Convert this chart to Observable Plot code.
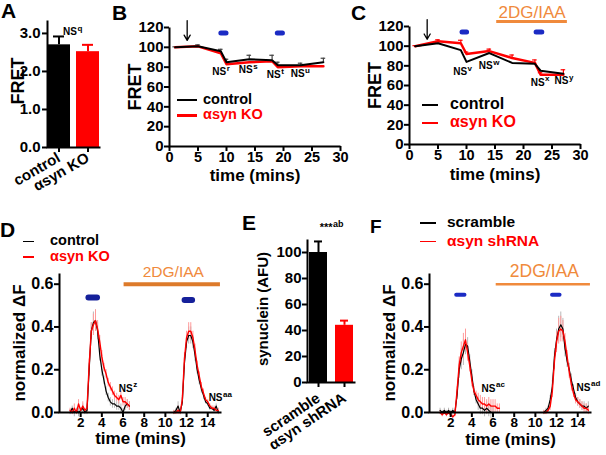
<!DOCTYPE html>
<html><head><meta charset="utf-8">
<script src="https://cdn.jsdelivr.net/npm/d3@7"></script>
<script src="https://cdn.jsdelivr.net/npm/@observablehq/plot@0.6"></script>
<style>
body{margin:0;background:#fff;}
#fig{position:relative;width:606px;height:455px;overflow:hidden;font-family:"Liberation Sans",Arial,Helvetica,sans-serif;font-weight:bold;}
.t{position:absolute;white-space:nowrap;line-height:1;}
</style></head>
<body><div id="fig"></div>
<script>
// ---------- DATA ----------
const catA = ["control", "αsyn KO"];
const fretA = [2.70, 2.52];
const fretSemA = [0.22, 0.18];

const timeB = [1, 5, 9, 10, 14, 18, 19, 23, 27];
const ctrlB = [100, 101, 96, 85, 88, 87, 82, 82, 85];
const ctrlErrB = [0.5, 1.5, 2, 3, 4, 5, 3, 2, 4];
const koB = [100, 101, 94, 83, 85, 86, 80, 81, 81];
const stimB = [[9.1, 10.0], [19.0, 19.9]];
const nsB = [[9.95, 75, "r"], [14.6, 77, "s"], [19.5, 72, "t"], [23.7, 73, "u"]];

const timeC = [1, 5, 9, 10, 14, 18, 22, 23, 27];
const ctrlC = [100, 103, 96, 84, 93, 83, 82, 75, 72];
const koC = [100, 105, 103, 92, 95, 88, 83, 71, 71];
const koErrC = [0.5, 1.5, 3, 2, 2, 3, 3, 2, 5];
const stimC = [[9.3, 10.1], [22.3, 23.3]];
const treatC = [15.3, 27.7];
const nsC = [[10.1, 73.5, "v"], [14.6, 79.7, "w"], [23.7, 62.7, "x"], [27.9, 64.4, "y"]];

const tSeg1 = [1.0,1.2,1.4,1.6,1.8,2.0,2.2,2.4,2.6,2.8,3.0,3.2,3.4,3.6,3.8,4.0,4.2,4.4,4.6,4.8,5.0,5.2,5.4,5.6,5.8,6.0,6.2,6.4,6.6];
const tSeg2 = [10.8,11.0,11.2,11.4,11.6,11.8,12.0,12.2,12.4,12.6,12.8,13.0,13.2,13.4,13.6,13.8,14.0,14.2,14.4,14.6,14.8,15.0];

const ctrlD1 = [0.00,0.02,0.00,0.01,0.00,0.01,0.02,0.00,0.01,0.20,0.38,0.42,0.43,0.38,0.27,0.20,0.15,0.10,0.07,0.05,0.04,0.04,0.03,0.03,0.02,0.00,0.03,0.04,0.03];
const koD1   = [0.01,0.00,0.02,0.00,0.04,0.01,0.03,0.01,0.02,0.22,0.38,0.41,0.43,0.39,0.33,0.26,0.21,0.18,0.14,0.12,0.10,0.08,0.07,0.06,0.08,0.05,0.05,0.04,0.03];
const semD1  = [0.01,0.01,0.02,0.01,0.02,0.01,0.02,0.01,0.02,0.03,0.04,0.05,0.05,0.04,0.03,0.03,0.02,0.02,0.02,0.02,0.02,0.02,0.02,0.02,0.02,0.02,0.02,0.02,0.02];
const ctrlD2 = [0.00,0.01,0.03,0.00,0.05,0.23,0.33,0.36,0.36,0.33,0.27,0.20,0.15,0.11,0.08,0.05,0.04,0.02,0.02,0.01,0.03,0.00];
const koD2   = [0.00,0.00,0.01,0.00,0.06,0.25,0.35,0.38,0.38,0.35,0.29,0.22,0.17,0.12,0.09,0.06,0.05,0.03,0.02,0.02,0.01,0.01];
const semD2  = [0.01,0.01,0.02,0.01,0.02,0.03,0.03,0.04,0.04,0.03,0.03,0.02,0.02,0.02,0.02,0.01,0.01,0.01,0.01,0.01,0.01,0.01];
const stimD = [[2.78, 3.59, 0.538], [11.86, 12.57, 0.526]];
const treatD = [6.1, 15.2];
const nsD = [[6.92, 0.111, "z"], [15.4, 0.067, "aa"]];

const ctrlF1 = [0.01,0.00,0.01,0.00,0.01,0.00,0.01,0.00,0.08,0.20,0.25,0.28,0.32,0.31,0.24,0.17,0.10,0.06,0.04,0.02,0.02,0.01,0.02,0.01,0.00,0.00,null,null,null];
const koF1   = [0.00,-0.01,0.00,-0.01,0.00,-0.01,-0.02,-0.01,0.10,0.22,0.28,0.31,0.34,0.28,0.22,0.15,0.10,0.08,0.06,0.05,0.04,0.04,0.03,0.04,0.03,0.03,0.03,0.02,0.02];
const semF1  = [0.01,0.01,0.01,0.01,0.01,0.01,0.01,0.01,0.02,0.04,0.05,0.06,0.05,0.04,0.03,0.03,0.02,0.02,0.03,0.03,0.03,0.03,0.03,0.03,0.03,0.03,0.03,0.02,0.02];
const ctrlF2 = [0.00,0.01,0.02,0.06,0.12,0.26,0.34,0.39,0.41,0.39,0.30,0.24,0.20,0.15,0.11,0.07,0.05,0.04,0.03,0.03,0.02,0.03];
const koF2   = [0.00,0.00,0.01,0.03,0.10,0.24,0.33,0.38,0.39,0.38,0.33,0.26,0.19,0.13,0.09,0.06,0.05,0.04,0.03,0.02,0.02,0.01];
const semF2  = [0.01,0.01,0.01,0.02,0.03,0.04,0.05,0.06,0.06,0.05,0.04,0.03,0.03,0.03,0.02,0.02,0.02,0.02,0.02,0.02,0.02,0.02];
const stimF = [[2.57, 3.35, 0.551], [11.62, 12.33, 0.551]];
const treatF = [6.3, 15.2];
const nsF = [[6.23, 0.111, "ac"], [15.2, 0.115, "ad"]];

const catE = ["scramble", "αsyn shRNA"];
const synE = [100, 44];
const synSemE = [8.5, 3.6];

// ---------- STYLE ----------
const FONT = '"Liberation Sans", Arial, Helvetica, sans-serif';
const RED = "#ff0000", BLUE = "#1b2bc4", NAVY = "#15209a", ORANGE = "#f08a3c", ORANGE_D = "#dd7a2a";
const fig = document.getElementById("fig");
function put(el, left, top) { el.style.position = "absolute"; el.style.left = left + "px"; el.style.top = top + "px"; fig.appendChild(el); }
function st(fs) { return {fontFamily: FONT, fontWeight: "bold", fontSize: fs + "px", background: "transparent", overflow: "visible", color: "black"}; }
function axesFrame(w, h, ml, mr, mt, mb) {
  const fw = w - ml - mr, fh = h - mt - mb;
  return Plot.frame({stroke: "black", strokeWidth: 2, strokeDasharray: `0 ${fw + fh} ${fw + fh} 0`});
}
function yLabel(txt, dx, fs, dy = 0) { return Plot.text([txt], {frameAnchor: "left", text: d => d, rotate: -90, textAnchor: "middle", lineAnchor: "middle", dx, dy, fontSize: fs, fontWeight: "bold"}); }
function xLabel(txt, dy, fs) { return Plot.text([txt], {frameAnchor: "bottom", text: d => d, textAnchor: "middle", lineAnchor: "middle", dy, fontSize: fs, fontWeight: "bold"}); }
function nsMarks(ns, fs = 10) {
  const rows = ns.map(([x, y, s]) => ({x, y, s}));
  return [
    Plot.text(rows, {x: "x", y: "y", text: () => "NS", textAnchor: "end", fontSize: fs, fontWeight: "bold"}),
    Plot.text(rows, {x: "x", y: "y", text: "s", textAnchor: "start", dx: 0.5, dy: -4, fontSize: fs - 2, fontWeight: "bold"})
  ];
}
function letter(ch, left, top, fs = 21) { const d = document.createElement("div"); d.className = "t"; d.textContent = ch; d.style.fontSize = fs + "px"; put(d, left, top); }
function legend(items, lineX1, lineX2, textX, fs, lw) {
  for (const [label, color, y] of items) {
    const l = document.createElement("div");
    l.style.width = (lineX2 - lineX1) + "px"; l.style.height = lw + "px"; l.style.background = color;
    put(l, lineX1, y - lw / 2);
    const t = document.createElement("div"); t.className = "t"; t.textContent = label; t.style.fontSize = fs + "px"; t.style.color = color === "#000" ? "#000" : RED;
    put(t, textX, y - 0.56 * fs);
  }
}

// ---------- PANEL A ----------
{
  const W = 110, H = 200, ml = 47, mr = 10, mt = 20, mb = 53;
  const rows = catA.map((c, i) => ({c, v: fretA[i], e: fretSemA[i], col: i ? RED : "black"}));
  put(Plot.plot({
    width: W, height: H, marginLeft: ml, marginRight: mr, marginTop: mt, marginBottom: mb, style: st(15),
    x: {domain: catA, paddingInner: 0.2, paddingOuter: 0},
    y: {domain: [0, 3.34]},
    marks: [
      Plot.ruleX(rows, {x: "c", y1: "v", y2: d => d.v + d.e, stroke: "col", strokeWidth: 2}),
      Plot.tickY(rows, {x: "c", y: d => d.v + d.e, stroke: "col", strokeWidth: 2, insetLeft: 6, insetRight: 6}),
      Plot.barY(rows, {x: "c", y: "v", fill: "col"}),
      Plot.axisY({ticks: [0, 1, 2, 3], tickSize: 5, strokeWidth: 2, tickPadding: 2, fontSize: 15, label: null}),
      Plot.axisX({tickSize: 5, strokeWidth: 2, tickPadding: 4, tickRotate: -30, fontSize: 15, label: null}),
      axesFrame(W, H, ml, mr, mt, mb),
      yLabel("FRET", -29, 18, -3),
      Plot.text([catA[1]], {x: d => d, y: () => 3.03, text: () => "NS", textAnchor: "end", dx: -11, fontSize: 10, fontWeight: "bold"}),
      Plot.text([catA[1]], {x: d => d, y: () => 3.03, text: () => "q", textAnchor: "start", dx: -10.5, dy: -4, fontSize: 8, fontWeight: "bold"})
    ]
  }), 0, 0);
}

// ---------- PANEL B / C ----------
function fretPanel({left, time, ctrl, ko, ctrlErr, koErr, stim, ns, treat}) {
  const isB = left === 110;
  const W = isB ? 240 : 256, H = 200, ml = 59, mr = isB ? 10 : 26;
  const mt = isB ? 27 : 26, mb = isB ? 54 : 56;
  const rows = time.map((t, i) => ({t, c: ctrl[i], k: ko[i], ce: ctrlErr ? ctrlErr[i] : 0, ke: koErr ? koErr[i] : 0}));
  const marks = [
    Plot.axisX({ticks: [0, 5, 10, 15, 20, 25, 30], tickSize: 5, strokeWidth: 2, tickPadding: 0, fontSize: 14.5, label: null}),
    Plot.axisY({ticks: [0, 20, 40, 60, 80, 100, 120], tickSize: 5, strokeWidth: 2, tickPadding: 1, fontSize: 15, label: null}),
    axesFrame(W, H, ml, mr, mt, mb),
    yLabel("FRET", -34, 18),
    xLabel("time (mins)", isB ? 29 : 30, 17),
    Plot.ruleX(rows.filter(d => d.ke), {x: "t", y1: "k", y2: d => d.k + d.ke, stroke: RED, strokeWidth: 1.2}),
    Plot.ruleY(rows.filter(d => d.ke), {x1: d => d.t - 0.4, x2: d => d.t + 0.4, y: d => d.k + d.ke, stroke: RED, strokeWidth: 1.2}),
    Plot.ruleX(rows.filter(d => d.ce), {x: "t", y1: "c", y2: d => d.c + d.ce, stroke: "#444", strokeWidth: 1.2}),
    Plot.ruleY(rows.filter(d => d.ce), {x1: d => d.t - 0.4, x2: d => d.t + 0.4, y: d => d.c + d.ce, stroke: "#444", strokeWidth: 1.2}),
    Plot.lineY(rows, {x: "t", y: "k", stroke: RED, strokeWidth: 2.5}),
    Plot.lineY(rows, {x: "t", y: "c", stroke: "black", strokeWidth: 2}),
    Plot.ruleY(stim, {x1: d => d[0], x2: d => d[1], y: () => 114.5, stroke: BLUE, strokeWidth: 5, strokeLinecap: "round"}),
    Plot.arrow([3.1], {x1: d => d, x2: d => d, y1: () => 127, y2: () => 107, stroke: "black", strokeWidth: 1.3, headLength: 7}),
    ...nsMarks(ns)
  ];
  if (treat) {
    marks.push(Plot.ruleY([treat], {x1: d => d[0], x2: d => d[1], y: () => 125, stroke: ORANGE, strokeWidth: 3}));
    marks.push(Plot.text([treat], {x: d => (d[0] + d[1]) / 2, y: () => 134, text: () => "2DG/IAA", fill: ORANGE, fontSize: 17, fontWeight: "normal"}));
  }
  put(Plot.plot({width: W, height: H, marginLeft: ml, marginRight: mr, marginTop: mt, marginBottom: mb, style: st(15),
    x: {domain: [0, 30]}, y: {domain: [0, 120]}, marks}), left, 0);
}
fretPanel({left: 110, time: timeB, ctrl: ctrlB, ko: koB, ctrlErr: ctrlErrB, stim: stimB, ns: nsB});
fretPanel({left: 350, time: timeC, ctrl: ctrlC, ko: koC, koErr: koErrC, stim: stimC, ns: nsC, treat: treatC});
legend([["control", "#000", 100], ["αsyn KO", RED, 115.5]], 177, 197, 203, 14.5, 2.5);
legend([["control", "#000", 105], ["αsyn KO", RED, 123]], 422, 438, 450, 16, 2.5);

// ---------- PANEL D / F ----------
function tracePanel({left, W, mr, a1, b1, e1, a2, b2, e2, stim, stimW, stimColor, treat, treatW, treatColor, treatFs, ns, xlDy}) {
  const H = 255, ml = 59, mt = 73, mb = 43;
  const rows = [];
  tSeg1.forEach((t, i) => rows.push({t, seg: 1, a: a1[i], b: b1[i], e: e1[i]}));
  tSeg2.forEach((t, i) => rows.push({t, seg: 2, a: a2[i], b: b2[i], e: e2[i]}));
  const ra = rows.filter(d => d.a != null);
  put(Plot.plot({
    width: W, height: H, marginLeft: ml, marginRight: mr, marginTop: mt, marginBottom: mb, style: st(15),
    x: {domain: [0, 15.3]}, y: {domain: [0, 0.65]},
    marks: [
      Plot.ruleX(ra, {x: "t", y1: d => d.a - d.e, y2: d => d.a + d.e, stroke: "#b8b8b8", strokeWidth: 1}),
      Plot.ruleX(rows, {x: "t", y1: d => d.b - d.e, y2: d => d.b + d.e, stroke: "#ff9a9a", strokeWidth: 1}),
      Plot.lineY(ra, {x: "t", y: "a", z: "seg", stroke: "black", strokeWidth: 1.2}),
      Plot.lineY(rows, {x: "t", y: "b", z: "seg", stroke: RED, strokeWidth: 1.4}),
      Plot.axisX({ticks: [2, 4, 6, 8, 10, 12, 14], tickSize: 5, strokeWidth: 2, tickPadding: 0, fontSize: 13.5, label: null}),
      Plot.axisY({ticks: [0, 0.2, 0.4, 0.6], tickFormat: d3.format(".1f"), tickSize: 5, strokeWidth: 2, tickPadding: 1, fontSize: 16, label: null}),
      axesFrame(W, H, ml, mr, mt, mb),
      yLabel("normalized ΔF", -39.5, 17),
      xLabel("time (mins)", xlDy, 17),
      Plot.ruleY(stim, {x1: d => d[0], x2: d => d[1], y: d => d[2], stroke: stimColor, strokeWidth: stimW, strokeLinecap: "round"}),
      Plot.ruleY([treat], {x1: d => d[0], x2: d => d[1], y: () => 0.6, stroke: treatColor, strokeWidth: treatW}),
      Plot.text([treat], {x: d => (d[0] + d[1]) / 2 + 0.1, y: () => 0.658, text: () => "2DG/IAA", fill: ORANGE, fontSize: treatFs, fontWeight: "normal"}),
      ...nsMarks(ns)
    ]
  }), left, 200);
}
tracePanel({left: 0, W: 230, mr: 9, a1: ctrlD1, b1: koD1, e1: semD1, a2: ctrlD2, b2: koD2, e2: semD2,
  stim: stimD, stimW: 6, stimColor: NAVY, treat: treatD, treatW: 4, treatColor: ORANGE_D, treatFs: 15.5, ns: nsD, xlDy: 26});
tracePanel({left: 370, W: 236, mr: 15, a1: ctrlF1, b1: koF1, e1: semF1, a2: ctrlF2, b2: koF2, e2: semF2,
  stim: stimF, stimW: 4, stimColor: BLUE, treat: treatF, treatW: 2.5, treatColor: ORANGE, treatFs: 17.5, ns: nsF, xlDy: 27.5});
legend([["control", "#000", 241.5], ["αsyn KO", RED, 257]], 23, 34, 50, 14.5, 1.5);
legend([["scramble", "#000", 223], ["αsyn shRNA", RED, 241.5]], 420, 436, 447, 15.5, 1.5);

// ---------- PANEL E ----------
{
  const W = 140, H = 255, ml = 77, mr = 15, mt = 39, mb = 73;
  const rows = catE.map((c, i) => ({c, v: synE[i], e: synSemE[i], col: i ? RED : "black"}));
  put(Plot.plot({
    width: W, height: H, marginLeft: ml, marginRight: mr, marginTop: mt, marginBottom: mb, style: st(15),
    x: {domain: catE, paddingInner: 0.3, paddingOuter: 0.05},
    y: {domain: [0, 110]},
    marks: [
      Plot.ruleX(rows, {x: "c", y1: "v", y2: d => d.v + d.e, stroke: "col", strokeWidth: 2}),
      Plot.tickY(rows, {x: "c", y: d => d.v + d.e, stroke: "col", strokeWidth: 2, insetLeft: 5, insetRight: 5}),
      Plot.barY(rows, {x: "c", y: "v", fill: "col"}),
      Plot.axisY({ticks: [0, 20, 40, 60, 80, 100], tickSize: 5, strokeWidth: 2, tickPadding: 1, fontSize: 15, label: null}),
      Plot.axisX({tickSize: 5, strokeWidth: 2, tickPadding: 9, tickRotate: -34, fontSize: 15, label: null}),
      axesFrame(W, H, ml, mr, mt, mb),
      yLabel("synuclein (AFU)", -44, 15, -2),
      Plot.text([catE[1]], {x: d => d, y: () => 119, text: () => "***", textAnchor: "end", dx: -12, fontSize: 11, fontWeight: "bold"}),
      Plot.text([catE[1]], {x: d => d, y: () => 119, text: () => "ab", textAnchor: "start", dx: -11.5, dy: -4, fontSize: 9, fontWeight: "bold"})
    ]
  }), 230, 200);
}

// ---------- PANEL LETTERS ----------
letter("A", 1, 0); letter("B", 112, 2); letter("C", 351, 2);
letter("D", 0, 219); letter("E", 242, 212); letter("F", 370, 217, 19);
</script></body></html>
